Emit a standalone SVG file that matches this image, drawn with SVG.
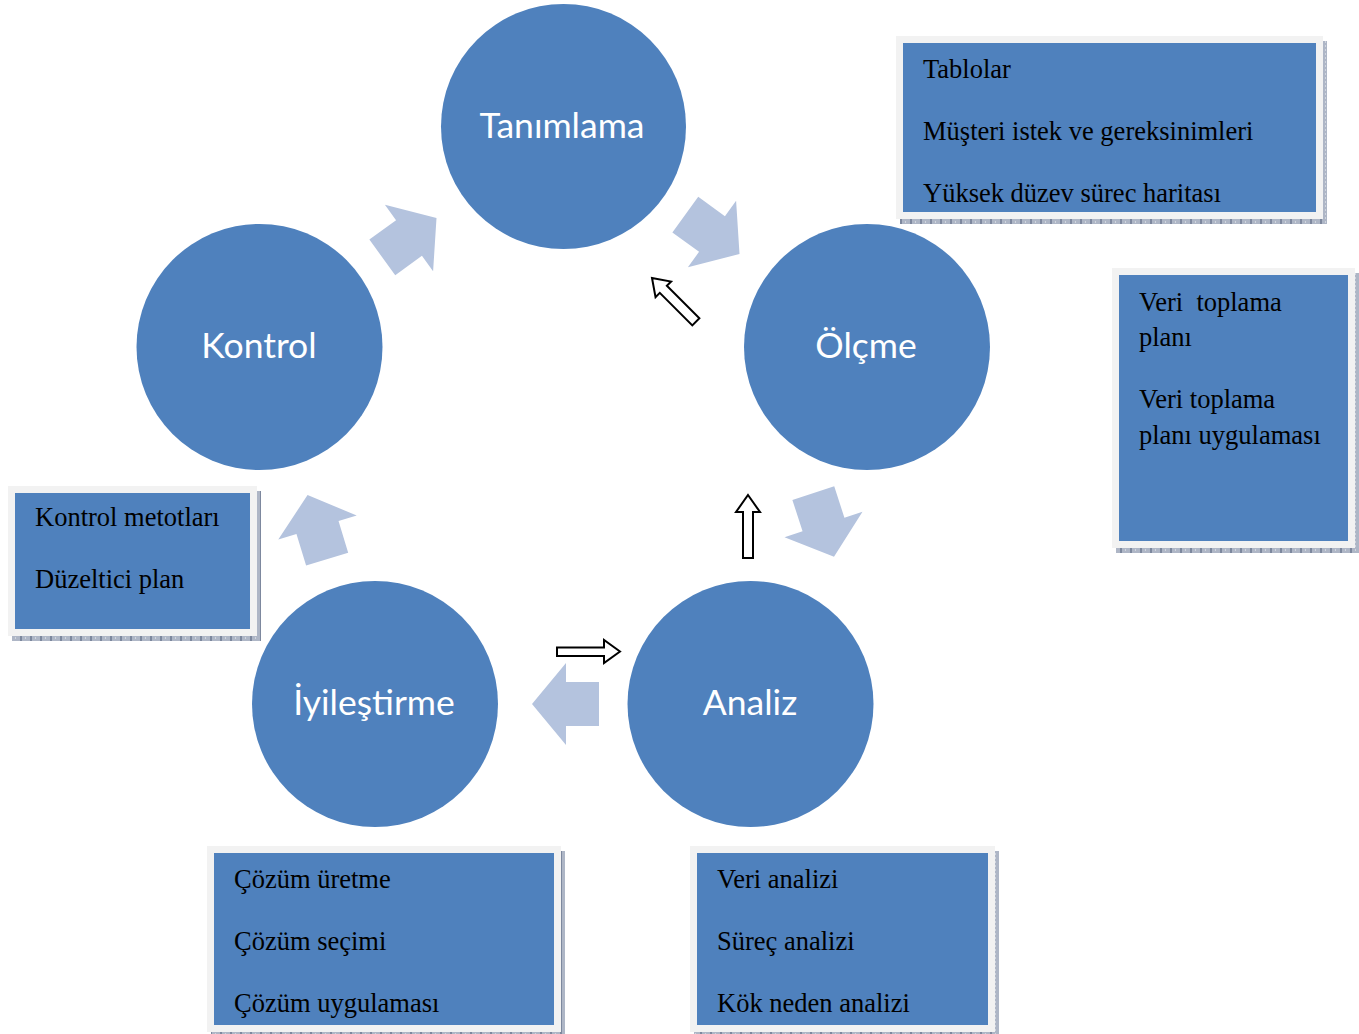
<svg xmlns="http://www.w3.org/2000/svg" width="1359" height="1034" viewBox="0 0 1359 1034">
  <style>
    .circle { fill: #4f81bd; }
    .clabel { font-family: Lato, "Open Sans", "DejaVu Sans", sans-serif; font-size: 35.5px; fill: #ffffff; text-anchor: middle; dominant-baseline: central; }
    .flow { fill: #b4c3de; }
    .hint { fill: #ffffff; stroke: #000000; stroke-width: 2; stroke-linejoin: miter; }
    .frame { fill: #f2f2f2; }
    .panel { fill: #4f81bd; }
    .shadow { fill: url(#dots); }
    .btext { font-family: "Liberation Serif", "Times New Roman", serif; font-size: 26.5px; fill: #000000; }
  </style>
  <defs>
    <pattern id="dots" width="10" height="4" patternUnits="userSpaceOnUse">
      <rect width="10" height="4" fill="#aeb6c6"/>
      <rect x="0" y="0" width="2" height="4" fill="#7d889e"/>
      <rect x="5" y="1" width="1" height="2" fill="#d0d5de"/>
    </pattern>
    <!-- block arrow pointing along +x, head base at the origin -->
    <polygon id="block" points="-33,-22 0,-22 0,-41 34,0 0,41 0,22 -33,22"/>
  </defs>

  <rect width="1359" height="1034" fill="#ffffff"/>

  <!-- cycle nodes -->
  <g id="node-tanimlama">
    <circle class="circle" cx="563.5" cy="126.5" r="122.5"/>
    <text class="clabel" x="562" y="124">Tanımlama</text>
  </g>
  <g id="node-olcme">
    <circle class="circle" cx="867" cy="347" r="123"/>
    <text class="clabel" x="866" y="344">Ölçme</text>
  </g>
  <g id="node-analiz">
    <circle class="circle" cx="750.5" cy="704" r="123"/>
    <text class="clabel" x="750" y="701">Analiz</text>
  </g>
  <g id="node-iyilestirme">
    <circle class="circle" cx="375" cy="704" r="123"/>
    <text class="clabel" x="374" y="701">İyileştirme</text>
  </g>
  <g id="node-kontrol">
    <circle class="circle" cx="259.5" cy="347" r="123"/>
    <text class="clabel" x="259" y="344">Kontrol</text>
  </g>

  <!-- connectors -->
  <g id="connectors">
    <use href="#block" class="flow" transform="translate(409,238) rotate(-36)"/>
    <use href="#block" class="flow" transform="translate(712,234) rotate(36)"/>
    <use href="#block" class="flow" transform="translate(823.5,524.5) rotate(72)"/>
    <use href="#block" class="flow" transform="translate(566,704) rotate(180)"/>
    <use href="#block" class="flow" transform="translate(317.5,527.5) rotate(-107)"/>

    <!-- outlined hint arrows -->
    <polygon class="hint" transform="translate(652,278) rotate(45)" points="0,0 16,-11 16,-5 62,-5 62,5 16,5 16,11"/>
    <polygon class="hint" points="748,495 760,512 753,512 753,558 743,558 743,512 736,512"/>
    <polygon class="hint" points="620,651.5 604,640 604,647.5 557,647.5 557,656 604,656 604,663"/>
  </g>

  <!-- detail panels -->
  <g id="panel-olcme-top">
    <rect class="shadow" x="900" y="41" width="427" height="183"/>
    <rect class="frame" x="896" y="36" width="427" height="183"/>
    <rect class="panel" x="903" y="43" width="413" height="169"/>
    <text class="btext" x="923" y="78">Tablolar</text>
    <text class="btext" x="923" y="140">Müşteri istek ve gereksinimleri</text>
    <text class="btext" x="923" y="202">Yüksek düzev sürec haritası</text>
  </g>
  <g id="panel-olcme">
    <rect class="shadow" x="1116" y="273" width="243" height="280"/>
    <rect class="frame" x="1112" y="268" width="243" height="280"/>
    <rect class="panel" x="1119" y="275" width="229" height="266"/>
    <text class="btext" x="1139" y="311" xml:space="preserve">Veri  toplama</text>
    <text class="btext" x="1139" y="346">planı</text>
    <text class="btext" x="1139" y="408">Veri toplama</text>
    <text class="btext" x="1139" y="444">planı uygulaması</text>
  </g>
  <g id="panel-kontrol">
    <rect class="shadow" x="12" y="491" width="249" height="150"/>
    <rect class="frame" x="8" y="486" width="249" height="150"/>
    <rect class="panel" x="15" y="493" width="235" height="136"/>
    <text class="btext" x="35" y="526">Kontrol metotları</text>
    <text class="btext" x="35" y="588">Düzeltici plan</text>
  </g>
  <g id="panel-iyilestirme">
    <rect class="shadow" x="211" y="851" width="354" height="186"/>
    <rect class="frame" x="207" y="846" width="354" height="186"/>
    <rect class="panel" x="214" y="853" width="340" height="172"/>
    <text class="btext" x="234" y="888">Çözüm üretme</text>
    <text class="btext" x="234" y="950">Çözüm seçimi</text>
    <text class="btext" x="234" y="1012">Çözüm uygulaması</text>
  </g>
  <g id="panel-analiz">
    <rect class="shadow" x="694" y="851" width="305" height="186"/>
    <rect class="frame" x="690" y="846" width="305" height="186"/>
    <rect class="panel" x="697" y="853" width="291" height="172"/>
    <text class="btext" x="717" y="888">Veri analizi</text>
    <text class="btext" x="717" y="950">Süreç analizi</text>
    <text class="btext" x="717" y="1012">Kök neden analizi</text>
  </g>
</svg>
